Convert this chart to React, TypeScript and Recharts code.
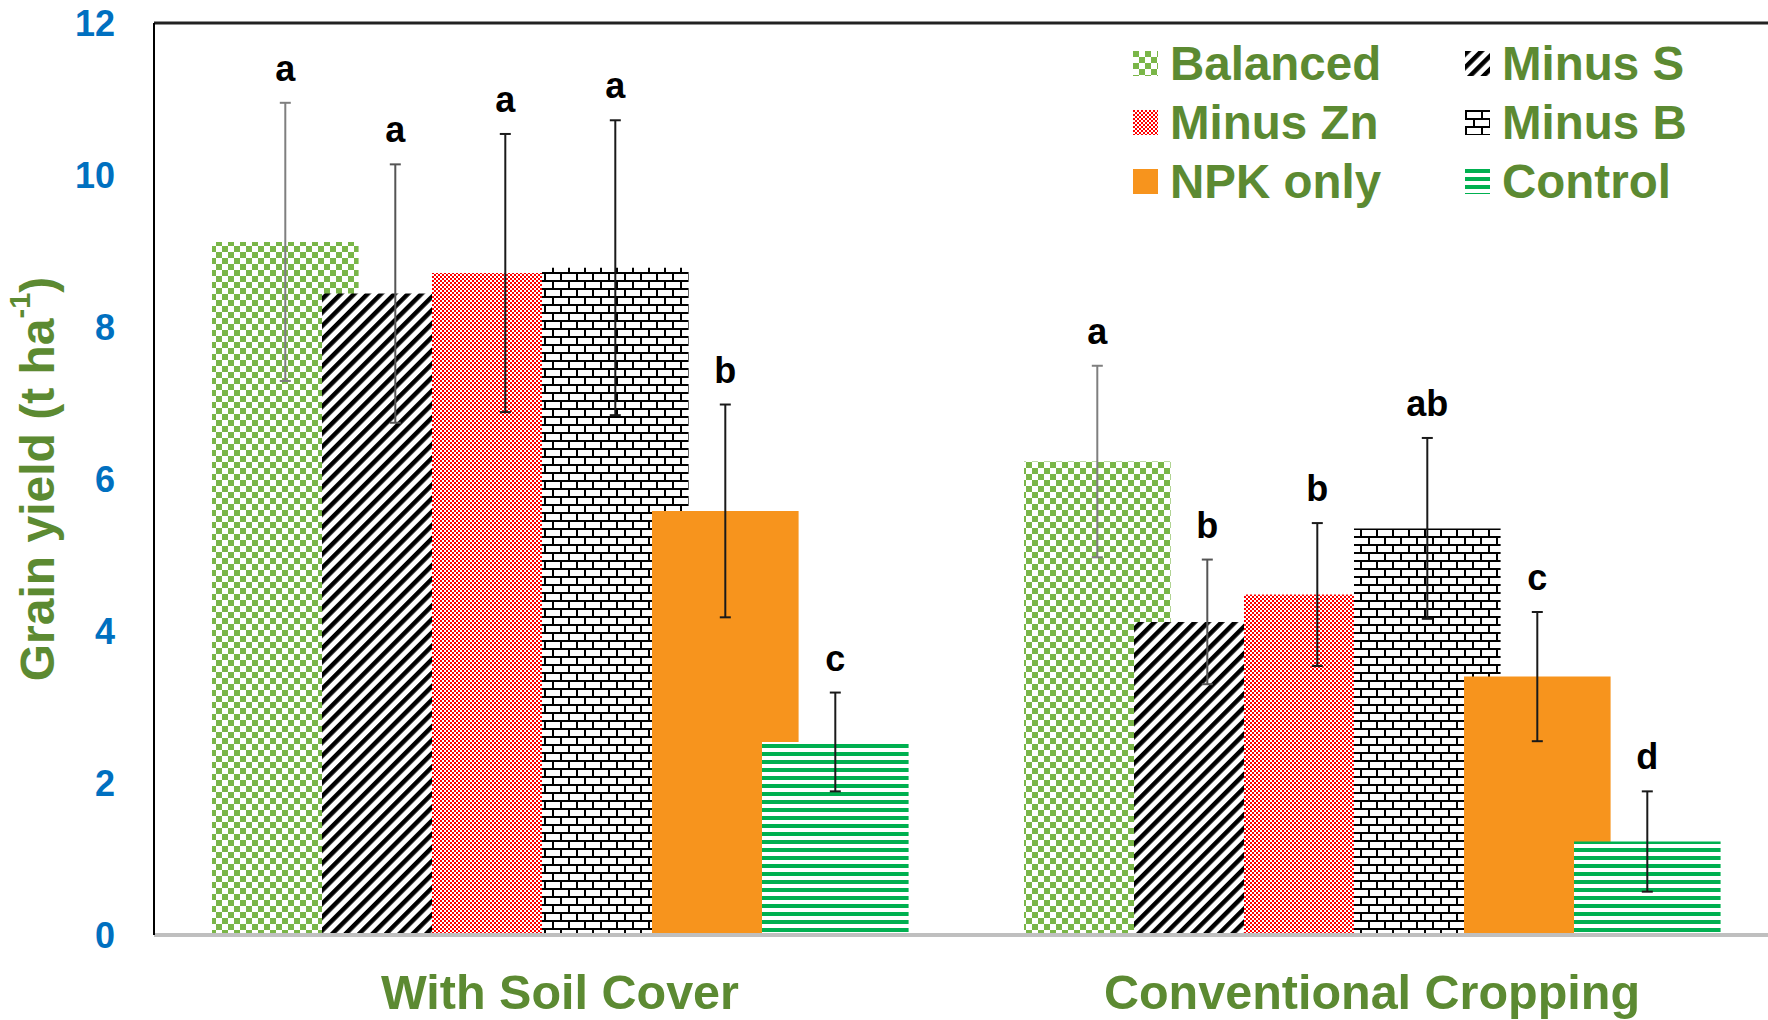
import React from "react";
import { BarChart, Bar, XAxis, YAxis, ErrorBar, LabelList, Legend, ReferenceLine } from "recharts";

const groups = ["With Soil Cover", "Conventional Cropping"];
const seriesNames = ["Balanced", "Minus S", "Minus Zn", "Minus B", "NPK only", "Control"];

const balanced = [9.12, 6.23];
const balancedErr = [1.83, 1.26];
const balancedLetters = ["a", "a"];

const minusS = [8.44, 4.12];
const minusSErr = [1.7, 0.82];
const minusSLetters = ["a", "b"];

const minusZn = [8.71, 4.48];
const minusZnErr = [1.83, 0.94];
const minusZnLetters = ["a", "b"];

const minusB = [8.78, 5.35];
const minusBErr = [1.94, 1.19];
const minusBLetters = ["a", "ab"];

const npk = [5.58, 3.4];
const npkErr = [1.4, 0.85];
const npkLetters = ["b", "c"];

const control = [2.54, 1.23];
const controlErr = [0.65, 0.66];
const controlLetters = ["c", "d"];

const yTicks = [0, 2, 4, 6, 8, 10, 12];

const seriesValues = [balanced, minusS, minusZn, minusB, npk, control];
const seriesErrs = [balancedErr, minusSErr, minusZnErr, minusBErr, npkErr, controlErr];
const seriesLetters = [balancedLetters, minusSLetters, minusZnLetters, minusBLetters, npkLetters, controlLetters];

const keys = ["s0", "s1", "s2", "s3", "s4", "s5"];
const fills = ["url(#pBal)", "url(#pMinS)", "url(#pMinZn)", "url(#pMinB)", "#F7941D", "url(#pCtrl)"];
const errStrokes = ["#7f7f7f", "#555555", "#1a1a1a", "#1a1a1a", "#1a1a1a", "#1a1a1a"];

const data = groups.map((g, i) => {
  const row: any = { group: g };
  keys.forEach((k, s) => {
    row[k] = seriesValues[s][i];
    row[k + "Err"] = seriesErrs[s][i];
    row[k + "Let"] = seriesLetters[s][i];
  });
  return row;
});

const FONT = "'Liberation Sans', Arial, sans-serif";
const GREEN = "#5C8A32";
const BLUE = "#0070C0";

const Patterns = () => (
  <svg width={0} height={0} style={{ position: "absolute" }}>
    <defs>
      <pattern id="pBal" patternUnits="userSpaceOnUse" width={12} height={12}>
        <rect width={12} height={12} fill="#ffffff" />
        <rect x={0} y={0} width={6} height={6} fill="#7AB648" />
        <rect x={6} y={6} width={6} height={6} fill="#7AB648" />
      </pattern>
      <pattern id="pMinS" patternUnits="userSpaceOnUse" width={9.5} height={10} patternTransform="rotate(45)">
        <rect width={9.5} height={10} fill="#ffffff" />
        <rect x={0} y={0} width={4.5} height={10} fill="#000000" />
      </pattern>
      <pattern id="pMinZn" patternUnits="userSpaceOnUse" width={4} height={4}>
        <rect width={4} height={4} fill="#ffffff" />
        <rect x={0} y={0} width={2} height={2} fill="#FF0000" />
        <rect x={2} y={2} width={2} height={2} fill="#FF0000" />
      </pattern>
      <pattern id="pMinB" patternUnits="userSpaceOnUse" width={16} height={16}>
        <rect width={16} height={16} fill="#ffffff" />
        <rect x={0} y={0} width={16} height={2} fill="#000000" />
        <rect x={0} y={8} width={16} height={2} fill="#000000" />
        <rect x={0} y={0} width={2} height={8} fill="#000000" />
        <rect x={8} y={8} width={2} height={8} fill="#000000" />
      </pattern>
      <pattern id="pCtrl" patternUnits="userSpaceOnUse" width={8} height={8}>
        <rect width={8} height={8} fill="#ffffff" />
        <rect x={0} y={0} width={8} height={4} fill="#00B050" />
      </pattern>
    </defs>
  </svg>
);

const makeLetter = (s: number) => (p: any) => {
  const vb = p.viewBox || p;
  const x = Number(p.x ?? vb.x);
  const y = Number(p.y ?? vb.y);
  const w = Number(p.width ?? vb.width);
  const h = Number(p.height ?? vb.height);
  const idx = p.index ?? 0;
  const v = seriesValues[s][idx];
  const e = seriesErrs[s][idx];
  const errTop = y - (e * h) / v;
  return (
    <text
      x={x + w / 2}
      y={errTop - 22}
      textAnchor="middle"
      fontFamily={FONT}
      fontWeight="bold"
      fontSize={36}
      fill="#000"
    >
      {p.value}
    </text>
  );
};

const YLabel = (p: any) => {
  const vb = p.viewBox || { x: 0, y: 23, width: 154, height: 912 };
  const cx = 37;
  const cy = vb.y + vb.height / 2;
  return (
    <text
      transform={`translate(${cx},${cy}) rotate(-90)`}
      textAnchor="middle"
      dominantBaseline="central"
      fontFamily={FONT}
      fontWeight="bold"
      fontSize={48}
      fill={GREEN}
    >
      Grain yield (t ha
      <tspan fontSize={29} dy={-17}>-1</tspan>
      <tspan dy={17}>)</tspan>
    </text>
  );
};

const XTick = (p: any) => (
  <text
    x={p.x}
    y={p.y}
    dy={74}
    textAnchor="middle"
    fontFamily={FONT}
    fontWeight="bold"
    fontSize={48.5}
    fill={GREEN}
  >
    {p.payload.value}
  </text>
);

const YTick = (p: any) => (
  <text
    x={p.x}
    y={p.y}
    dy={13}
    textAnchor="end"
    fontFamily={FONT}
    fontWeight="bold"
    fontSize={36}
    fill={BLUE}
  >
    {p.payload.value}
  </text>
);

const LegendContent = () => (
  <div
    style={{
      display: "grid",
      gridTemplateColumns: "332px 300px",
      fontFamily: FONT,
      fontWeight: "bold",
      fontSize: 47.5,
      color: GREEN,
    }}
  >
    {seriesNames.map((n, i) => (
      <div key={n} style={{ display: "flex", alignItems: "center", height: 59 }}>
        <svg width={25} height={25} style={{ marginRight: 12, flex: "none" }}>
          <rect width={25} height={25} fill={fills[i]} />
        </svg>
        <span style={{ lineHeight: 1, whiteSpace: "nowrap" }}>{n}</span>
      </div>
    ))}
  </div>
);

export default function App() {
  return (
    <div style={{ position: "absolute", left: 0, top: 0, width: 1768, height: 1020, background: "#fff" }}>
      <Patterns />
      <BarChart
        width={1768}
        height={1020}
        data={data}
        margin={{ top: 23, right: -10, bottom: 0, left: 0 }}
        barGap={-36.6}
        barSize={146.6}
      >
        <XAxis
          dataKey="group"
          height={85}
          tickLine={false}
          tickSize={0}
          tickMargin={0}
          axisLine={{ stroke: "#BFBFBF", strokeWidth: 4 }}
          tick={<XTick />}
        />
        <YAxis
          width={154}
          domain={[0, 12]}
          ticks={yTicks}
          tickLine={false}
          tickSize={0}
          tickMargin={39}
          axisLine={{ stroke: "#000", strokeWidth: 2 }}
          tick={<YTick />}
          label={<YLabel />}
        />
        <ReferenceLine y={12} stroke="#222" strokeWidth={3} />
        {keys.map((k, s) => (
          <Bar key={k} dataKey={k} name={seriesNames[s]} fill={fills[s]} isAnimationActive={false}>
            <ErrorBar dataKey={k + "Err"} width={5.5} stroke={errStrokes[s]} strokeWidth={2} direction="y" />
            <LabelList dataKey={k + "Let"} content={makeLetter(s)} />
          </Bar>
        ))}
        <Legend
          layout="vertical"
          align="center"
          verticalAlign="middle"
          content={<LegendContent />}
          wrapperStyle={{ position: "absolute", top: 34, left: 1133, width: 640, height: 177 }}
        />
      </BarChart>
    </div>
  );
}
